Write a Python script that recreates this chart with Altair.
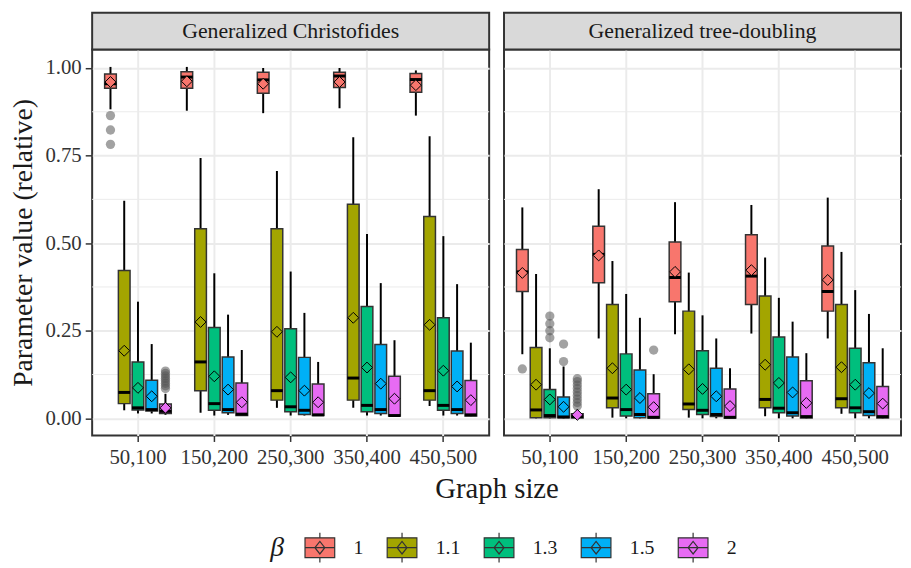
import altair as alt
import pandas as pd

categories = ["50,100", "150,200", "250,300", "350,400", "450,500"]
betas = ["1", "1.1", "1.3", "1.5", "2"]
colors = ["#F8766D", "#A3A500", "#00BF7D", "#00B0F6", "#E76BF3"]
panel_titles = ["Generalized Christofides", "Generalized tree-doubling"]

# ---- Generalized Christofides (rows = graph size, cols = beta) ----
gc_wlo = [[0.882, 0.023, 0.014, 0.014, 0.010],
          [0.878, 0.016, 0.008, 0.010, 0.007],
          [0.871, 0.030, 0.008, 0.008, 0.007],
          [0.885, 0.030, 0.008, 0.008, 0.006],
          [0.864, 0.035, 0.008, 0.008, 0.006]]
gc_q1 = [[0.942, 0.042, 0.024, 0.021, 0.014],
         [0.942, 0.079, 0.023, 0.016, 0.008],
         [0.928, 0.052, 0.019, 0.011, 0.008],
         [0.944, 0.052, 0.019, 0.014, 0.007],
         [0.931, 0.052, 0.023, 0.014, 0.007]]
gc_med = [[0.955, 0.074, 0.030, 0.025, 0.020],
          [0.974, 0.161, 0.042, 0.025, 0.012],
          [0.966, 0.079, 0.033, 0.023, 0.010],
          [0.977, 0.115, 0.037, 0.025, 0.008],
          [0.967, 0.079, 0.037, 0.025, 0.010]]
gc_q3 = [[0.983, 0.422, 0.161, 0.109, 0.041],
         [0.989, 0.541, 0.259, 0.175, 0.101],
         [0.988, 0.541, 0.256, 0.174, 0.098],
         [0.988, 0.611, 0.319, 0.211, 0.120],
         [0.984, 0.576, 0.287, 0.192, 0.108]]
gc_whi = [[1.003, 0.621, 0.333, 0.212, 0.070],
          [1.003, 0.743, 0.414, 0.296, 0.195],
          [1.000, 0.706, 0.419, 0.301, 0.161],
          [1.000, 0.802, 0.526, 0.386, 0.223],
          [0.993, 0.805, 0.520, 0.383, 0.216]]
gc_mean = [[0.960, 0.193, 0.087, 0.063, 0.030],
           [0.962, 0.275, 0.120, 0.082, 0.046],
           [0.955, 0.247, 0.117, 0.079, 0.046],
           [0.960, 0.287, 0.145, 0.099, 0.056],
           [0.951, 0.267, 0.136, 0.091, 0.052]]
gc_out_size = ["50,100"] * 11
gc_out_beta = ["1"] * 3 + ["2"] * 8
gc_out_val = [0.864, 0.823, 0.782,
              0.085, 0.093, 0.100, 0.107, 0.114, 0.121, 0.128, 0.135]

# ---- Generalized tree-doubling ----
gt_wlo = [[0.183, 0.000, 0.000, 0.000, 0.000],
          [0.228, 0.002, 0.000, 0.000, 0.000],
          [0.240, 0.002, 0.000, 0.000, 0.000],
          [0.242, 0.006, 0.000, 0.000, 0.000],
          [0.228, 0.013, 0.000, 0.000, 0.000]]
gt_q1 = [[0.362, 0.002, 0.002, 0.002, 0.001],
         [0.387, 0.030, 0.007, 0.002, 0.001],
         [0.333, 0.025, 0.011, 0.005, 0.001],
         [0.325, 0.030, 0.016, 0.007, 0.001],
         [0.306, 0.030, 0.016, 0.008, 0.001]]
gt_med = [[0.418, 0.024, 0.008, 0.004, 0.005],
          [0.468, 0.058, 0.025, 0.011, 0.003],
          [0.402, 0.041, 0.023, 0.011, 0.003],
          [0.406, 0.054, 0.029, 0.016, 0.005],
          [0.362, 0.056, 0.030, 0.019, 0.005]]
gt_q3 = [[0.482, 0.202, 0.082, 0.061, 0.013],
         [0.548, 0.325, 0.184, 0.138, 0.070],
         [0.503, 0.306, 0.193, 0.143, 0.084],
         [0.524, 0.349, 0.232, 0.175, 0.107],
         [0.492, 0.325, 0.200, 0.159, 0.091]]
gt_whi = [[0.602, 0.412, 0.200, 0.148, 0.025],
          [0.654, 0.449, 0.355, 0.287, 0.126],
          [0.617, 0.416, 0.294, 0.228, 0.143],
          [0.609, 0.459, 0.344, 0.276, 0.186],
          [0.630, 0.475, 0.366, 0.298, 0.200]]
gt_mean = [[0.415, 0.096, 0.054, 0.033, 0.010],
           [0.465, 0.143, 0.082, 0.058, 0.032],
           [0.418, 0.140, 0.084, 0.063, 0.035],
           [0.423, 0.153, 0.101, 0.074, 0.044],
           [0.395, 0.146, 0.096, 0.072, 0.042]]
gt_out_size = ["50,100"] * 16 + ["150,200"]
gt_out_beta = ["1"] + ["1.3"] * 4 + ["1.5"] * 2 + ["2"] * 9 + ["2"]
gt_out_val = [0.141,
              0.292, 0.270, 0.250, 0.230,
              0.212, 0.162,
              0.035, 0.045, 0.055, 0.065, 0.075, 0.085, 0.095, 0.105, 0.113,
              0.195]

minor_y = [0.125, 0.375, 0.625, 0.875]

FONT = "Liberation Serif"
W, H, STRIP = 401, 390, 37
LEGEND_PATH = ("M-1,-0.667L1,-0.667L1,0.667L-1,0.667Z M-1,0L1,0 "
               "M0,-0.667L0,-1 M0,0.667L0,1 M-0.333,0L0,-0.42L0.333,0L0,0.42Z")


def box_frame(wlo, q1, med, q3, whi, mean):
    rows = []
    for i, c in enumerate(categories):
        for j, b in enumerate(betas):
            rows.append(dict(size=c, beta=b, wlo=wlo[i][j], q1=q1[i][j],
                             med=med[i][j], q3=q3[i][j], whi=whi[i][j],
                             mean=mean[i][j]))
    return pd.DataFrame(rows)


x_scale = alt.Scale(domain=categories, paddingInner=0.1, paddingOuter=0.15)
xo_scale = alt.Scale(domain=betas, paddingInner=0.15, paddingOuter=0.075)
y_scale = alt.Scale(domain=[-0.049, 1.053], nice=False, zero=False)
fill_scale = alt.Scale(domain=betas, range=colors)
legend = alt.Legend(title="β", orient="none", legendX=180, legendY=487,
                    direction="horizontal", symbolType=LEGEND_PATH,
                    symbolSize=900, symbolStrokeColor="#333333",
                    symbolStrokeWidth=1.2, symbolOpacity=1,
                    labelFont=FONT, labelFontSize=20, labelColor="#1A1A1A",
                    labelOffset=18, columnPadding=21,
                    titleFont=FONT, titleFontSize=28, titleFontStyle="italic",
                    titleFontWeight="normal", titleOrient="left",
                    titlePadding=20, titleColor="#1A1A1A")


def panel(df, out_df, title, first):
    x_axis = alt.Axis(title=None, bandPosition=0.5, labelAngle=0,
                      labelFont=FONT, labelFontSize=21, labelColor="#333333",
                      labelPadding=5, tickSize=6, tickColor="#333333",
                      tickWidth=1.5, domain=False, grid=True,
                      gridColor="#EBEBEB", gridWidth=2, labelOverlap=False)
    if first:
        y_axis = alt.Axis(title="Parameter value (relative)",
                          values=[0, 0.25, 0.5, 0.75, 1], format=".2f",
                          labelFont=FONT, labelFontSize=21,
                          labelColor="#333333", labelPadding=4, tickSize=7,
                          tickColor="#333333", tickWidth=1.5, domain=False,
                          grid=True, gridColor="#EBEBEB", gridWidth=2,
                          titleFont=FONT, titleFontSize=28,
                          titleFontWeight="normal", titleColor="#1A1A1A",
                          titlePadding=8)
    else:
        y_axis = alt.Axis(title=None, values=[0, 0.25, 0.5, 0.75, 1],
                          labels=False, ticks=False, domain=False, grid=True,
                          gridColor="#EBEBEB", gridWidth=2)
    X = alt.X("size:N", scale=x_scale, sort=categories, axis=x_axis)
    XO = alt.XOffset("beta:N", scale=xo_scale, sort=betas)
    F = alt.Fill("beta:N", scale=fill_scale, sort=betas, legend=legend)

    base = alt.Chart(df)
    minor = alt.Chart(pd.DataFrame({"v": minor_y})).mark_rule(
        color="#EBEBEB", strokeWidth=1).encode(
        y=alt.Y("v:Q", scale=y_scale, axis=y_axis))
    whisk = base.mark_rule(color="black", strokeWidth=2).encode(
        x=X, xOffset=XO, y=alt.Y("wlo:Q", scale=y_scale, axis=y_axis),
        y2="whi:Q")
    box = base.mark_bar(stroke="#333333", strokeWidth=1.5, opacity=1).encode(
        x=X, xOffset=XO, y=alt.Y("q1:Q", scale=y_scale, axis=y_axis),
        y2="q3:Q", fill=F)
    med = base.mark_tick(color="black", thickness=3, size=12,
                         opacity=1).encode(
        x=X, xOffset=XO, y=alt.Y("med:Q", scale=y_scale, axis=y_axis))
    outl = alt.Chart(out_df).mark_circle(
        size=88, color="#555555", opacity=0.55).encode(
        x=X, xOffset=XO, y=alt.Y("v:Q", scale=y_scale, axis=y_axis))
    mean = base.mark_point(shape="diamond", filled=True, size=121,
                           stroke="black", strokeWidth=1, opacity=1).encode(
        x=X, xOffset=XO, y=alt.Y("mean:Q", scale=y_scale, axis=y_axis),
        fill=F)
    sdata = alt.Chart(pd.DataFrame({"t": [title]}))
    strip = sdata.mark_rect(fill="#D9D9D9", stroke="#333333",
                            strokeWidth=2).encode(
        x=alt.value(0), x2=alt.value(W), y=alt.value(-STRIP),
        y2=alt.value(0))
    stext = sdata.mark_text(font=FONT, fontSize=22, color="#1A1A1A").encode(
        x=alt.value(W / 2), y=alt.value(-STRIP / 2), text="t:N")
    layers = [minor, whisk, box, med, outl, mean, strip, stext]
    if not first:
        xt = alt.Chart(pd.DataFrame({"t": ["Graph size"]})).mark_text(
            font=FONT, fontSize=29, color="#1A1A1A").encode(
            x=alt.value(-7), y=alt.value(H + 54), text="t:N")
        layers.append(xt)
    return alt.layer(*layers).properties(width=W, height=H)


def out_frame(s, b, v):
    return pd.DataFrame({"size": s, "beta": b, "v": v})


left = panel(box_frame(gc_wlo, gc_q1, gc_med, gc_q3, gc_whi, gc_mean),
             out_frame(gc_out_size, gc_out_beta, gc_out_val),
             panel_titles[0], True)
right = panel(box_frame(gt_wlo, gt_q1, gt_med, gt_q3, gt_whi, gt_mean),
              out_frame(gt_out_size, gt_out_beta, gt_out_val),
              panel_titles[1], False)

chart = alt.hconcat(left, right, spacing=15, bounds="flush").resolve_scale(
    fill="shared").properties(padding=0).configure(
    font=FONT).configure_view(stroke="#333333", strokeWidth=2)

chart.save("out.html", embed_options={"renderer": "svg", "actions": False})
